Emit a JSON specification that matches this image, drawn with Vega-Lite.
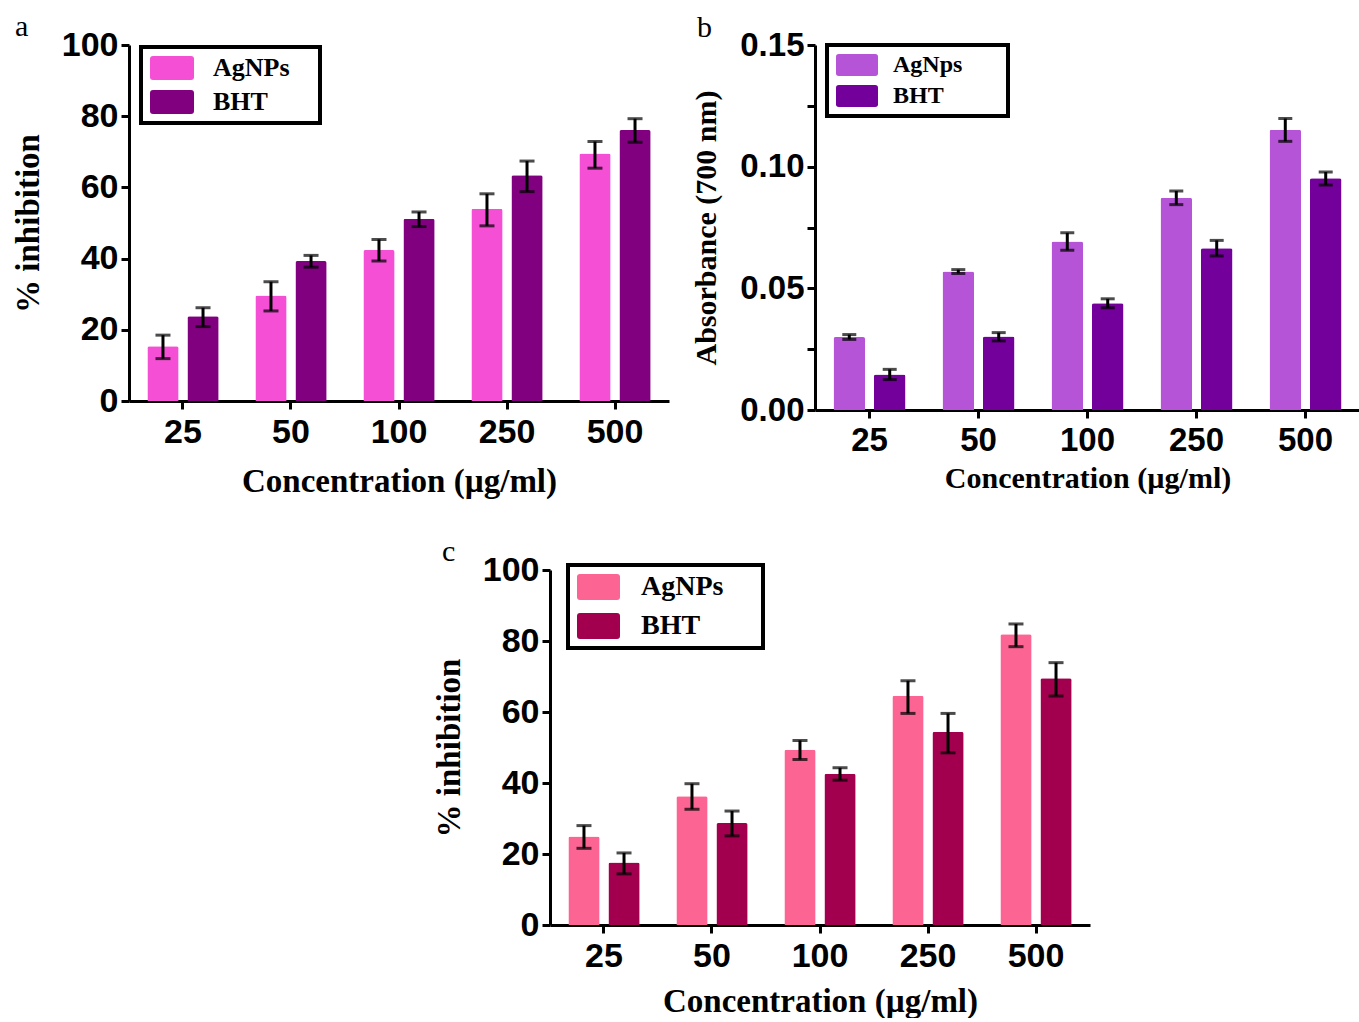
{
  "$schema": "https://vega.github.io/schema/vega-lite/v6.json",
  "background": "white",
  "padding": {"left": 12, "top": 12, "right": 0, "bottom": 0},
  "autosize": {"type": "pad"},
  "spacing": 39,
  "resolve": {"scale": {"color": "independent", "xOffset": "independent"}, "legend": {"color": "independent"}},
  "config": {
    "view": {"stroke": null},
    "axis": {
      "grid": false,
      "domainColor": "black", "domainWidth": 3,
      "tickColor": "black", "tickWidth": 3, "tickSize": 8,
      "labelFont": "Liberation Sans", "labelFontWeight": "bold", "labelFontSize": 34, "labelColor": "black",
      "titleFont": "Liberation Serif", "titleFontWeight": "bold", "titleFontSize": 33, "titleColor": "black"
    },
    "axisX": {"labelAngle": 0, "labelPadding": 6, "titlePadding": 16},
    "axisY": {"labelPadding": 3, "titlePadding": 16},
    "legend": {
      "orient": "none", "titleOrient": "right", "titleFontSize": 4,
      "strokeColor": "black", "strokeWidth": 4, "fillColor": "white",
      "labelFont": "Liberation Serif", "labelFontWeight": "bold", "labelColor": "black",
      "symbolStrokeWidth": 0, "symbolOpacity": 1, "padding": 8
    },
    "title": {"font": "Liberation Serif", "fontWeight": "normal", "fontSize": 30, "color": "black", "anchor": "start", "frame": "group"}
  },
  "datasets": {
    "a": [
      {"conc": "25", "group": "AgNPs", "mean": 15.4, "lo": 11.9, "hi": 18.5},
      {"conc": "50", "group": "AgNPs", "mean": 29.6, "lo": 25.3, "hi": 33.5},
      {"conc": "100", "group": "AgNPs", "mean": 42.4, "lo": 39.3, "hi": 45.4},
      {"conc": "250", "group": "AgNPs", "mean": 54.0, "lo": 49.2, "hi": 58.2},
      {"conc": "500", "group": "AgNPs", "mean": 69.5, "lo": 65.4, "hi": 72.9},
      {"conc": "25", "group": "BHT", "mean": 23.8, "lo": 20.9, "hi": 26.2},
      {"conc": "50", "group": "BHT", "mean": 39.3, "lo": 37.6, "hi": 40.9},
      {"conc": "100", "group": "BHT", "mean": 51.2, "lo": 49.0, "hi": 53.1},
      {"conc": "250", "group": "BHT", "mean": 63.4, "lo": 58.8, "hi": 67.4},
      {"conc": "500", "group": "BHT", "mean": 76.1, "lo": 72.7, "hi": 79.3}
    ],
    "b": [
      {"conc": "25", "group": "AgNps", "mean": 0.0300, "lo": 0.0290, "hi": 0.0310},
      {"conc": "50", "group": "AgNps", "mean": 0.0569, "lo": 0.0561, "hi": 0.0577},
      {"conc": "100", "group": "AgNps", "mean": 0.0692, "lo": 0.0656, "hi": 0.0728},
      {"conc": "250", "group": "AgNps", "mean": 0.0872, "lo": 0.0844, "hi": 0.0900},
      {"conc": "500", "group": "AgNps", "mean": 0.1152, "lo": 0.1104, "hi": 0.1198},
      {"conc": "25", "group": "BHT", "mean": 0.0146, "lo": 0.0125, "hi": 0.0167},
      {"conc": "50", "group": "BHT", "mean": 0.0302, "lo": 0.0284, "hi": 0.0318},
      {"conc": "100", "group": "BHT", "mean": 0.0439, "lo": 0.0420, "hi": 0.0457},
      {"conc": "250", "group": "BHT", "mean": 0.0665, "lo": 0.0633, "hi": 0.0697},
      {"conc": "500", "group": "BHT", "mean": 0.0952, "lo": 0.0925, "hi": 0.0978}
    ],
    "c": [
      {"conc": "25", "group": "AgNPs", "mean": 24.9, "lo": 21.6, "hi": 28.0},
      {"conc": "50", "group": "AgNPs", "mean": 36.3, "lo": 32.6, "hi": 39.8},
      {"conc": "100", "group": "AgNPs", "mean": 49.4, "lo": 46.6, "hi": 52.0},
      {"conc": "250", "group": "AgNPs", "mean": 64.6, "lo": 59.6, "hi": 68.8},
      {"conc": "500", "group": "AgNPs", "mean": 81.9, "lo": 78.4, "hi": 84.8},
      {"conc": "25", "group": "BHT", "mean": 17.6, "lo": 14.4, "hi": 20.3},
      {"conc": "50", "group": "BHT", "mean": 28.7, "lo": 25.1, "hi": 32.1},
      {"conc": "100", "group": "BHT", "mean": 42.6, "lo": 40.8, "hi": 44.3},
      {"conc": "250", "group": "BHT", "mean": 54.4, "lo": 48.5, "hi": 59.6},
      {"conc": "500", "group": "BHT", "mean": 69.5, "lo": 64.5, "hi": 73.9}
    ]
  },
  "vconcat": [
    {
      "spacing": 22,
      "resolve": {"scale": {"color": "independent", "xOffset": "independent"}, "legend": {"color": "independent"}},
      "hconcat": [
        {
          "title": {"text": "a", "dx": -114, "offset": -14},
          "width": 540, "height": 356,
          "data": {"name": "a"},
          "encoding": {
            "x": {"field": "conc", "type": "nominal", "sort": ["25", "50", "100", "250", "500"],
                  "scale": {"paddingInner": 0.34, "paddingOuter": 0.17},
                  "axis": {"title": "Concentration (µg/ml)"}},
            "xOffset": {"field": "group", "type": "nominal", "sort": ["AgNPs", "BHT"], "scale": {"paddingInner": 0.22}}
          },
          "layer": [
            {
              "mark": {"type": "bar", "cornerRadiusTopLeft": 2, "cornerRadiusTopRight": 2},
              "encoding": {
                "y": {"field": "mean", "type": "quantitative", "scale": {"domain": [0, 100], "nice": false},
                      "axis": {"title": "% inhibition", "values": [0, 20, 40, 60, 80, 100]}},
                "color": {"field": "group", "type": "nominal", "sort": ["AgNPs", "BHT"],
                          "scale": {"domain": ["AgNPs", "BHT"], "range": ["#F550D5", "#800080"]},
                          "legend": {"title": " ", "titlePadding": 22, "legendX": 12, "legendY": 2, "labelFontSize": 26, "rowPadding": 8, "labelOffset": 38, "symbolSize": 576,
                                     "symbolType": "M-0.75,-1H2.417Q2.667,-1 2.667,-0.75V0.75Q2.667,1 2.417,1H-0.75Q-1,1 -1,0.75V-0.75Q-1,-1 -0.75,-1Z"}}
              }
            },
            {
              "mark": {"type": "rule", "color": "black", "strokeWidth": 3},
              "encoding": {"y": {"field": "lo", "type": "quantitative"}, "y2": {"field": "hi"}}
            },
            {
              "mark": {"type": "tick", "orient": "horizontal", "color": "black", "size": 15, "thickness": 3},
              "encoding": {"y": {"field": "lo", "type": "quantitative"}}
            },
            {
              "mark": {"type": "tick", "orient": "horizontal", "color": "black", "size": 15, "thickness": 3},
              "encoding": {"y": {"field": "hi", "type": "quantitative"}}
            }
          ]
        },
        {
          "title": {"text": "b", "dx": -118, "offset": -14},
          "width": 545, "height": 365,
          "data": {"name": "b"},
          "encoding": {
            "x": {"field": "conc", "type": "nominal", "sort": ["25", "50", "100", "250", "500"],
                  "scale": {"paddingInner": 0.34, "paddingOuter": 0.17},
                  "axis": {"title": "Concentration (µg/ml)", "titleFontSize": 30, "labelFontSize": 33, "titlePadding": 6}},
            "xOffset": {"field": "group", "type": "nominal", "sort": ["AgNps", "BHT"], "scale": {"paddingInner": 0.22}}
          },
          "layer": [
            {
              "mark": {"type": "bar", "cornerRadiusTopLeft": 2, "cornerRadiusTopRight": 2},
              "encoding": {
                "y": {"field": "mean", "type": "quantitative", "scale": {"domain": [0, 0.15], "nice": false},
                      "axis": {"title": "Absorbance (700 nm)", "titleFontSize": 30, "labelFontSize": 33, "titlePadding": 18,
                               "values": [0, 0.025, 0.05, 0.075, 0.1, 0.125, 0.15],
                               "labelExpr": "round(datum.value * 1000) % 50 == 0 ? format(datum.value, '.2f') : ''"}},
                "color": {"field": "group", "type": "nominal", "sort": ["AgNps", "BHT"],
                          "scale": {"domain": ["AgNps", "BHT"], "range": ["#B654D8", "#74009B"]},
                          "legend": {"title": " ", "titlePadding": 38, "legendX": 12, "legendY": 0, "labelFontSize": 24, "rowPadding": 7, "labelOffset": 34, "symbolSize": 484,
                                     "symbolType": "M-0.75,-1H2.568Q2.818,-1 2.818,-0.75V0.75Q2.818,1 2.568,1H-0.75Q-1,1 -1,0.75V-0.75Q-1,-1 -0.75,-1Z"}}
              }
            },
            {
              "mark": {"type": "rule", "color": "black", "strokeWidth": 3},
              "encoding": {"y": {"field": "lo", "type": "quantitative"}, "y2": {"field": "hi"}}
            },
            {
              "mark": {"type": "tick", "orient": "horizontal", "color": "black", "size": 14, "thickness": 3},
              "encoding": {"y": {"field": "lo", "type": "quantitative"}}
            },
            {
              "mark": {"type": "tick", "orient": "horizontal", "color": "black", "size": 14, "thickness": 3},
              "encoding": {"y": {"field": "hi", "type": "quantitative"}}
            }
          ]
        }
      ]
    },
    {
      "spacing": 0,
      "resolve": {"scale": {"color": "independent", "xOffset": "independent"}, "legend": {"color": "independent"}},
      "hconcat": [
        {
          "width": 304, "height": 10,
          "data": {"values": [{}]},
          "mark": {"type": "point", "opacity": 0},
          "encoding": {}
        },
        {
          "title": {"text": "c", "dx": -108, "offset": -14},
          "width": 540, "height": 355,
          "data": {"name": "c"},
          "encoding": {
            "x": {"field": "conc", "type": "nominal", "sort": ["25", "50", "100", "250", "500"],
                  "scale": {"paddingInner": 0.34, "paddingOuter": 0.17},
                  "axis": {"title": "Concentration (µg/ml)", "titlePadding": 12}},
            "xOffset": {"field": "group", "type": "nominal", "sort": ["AgNPs", "BHT"], "scale": {"paddingInner": 0.22}}
          },
          "layer": [
            {
              "mark": {"type": "bar", "cornerRadiusTopLeft": 2, "cornerRadiusTopRight": 2},
              "encoding": {
                "y": {"field": "mean", "type": "quantitative", "scale": {"domain": [0, 100], "nice": false},
                      "axis": {"title": "% inhibition", "values": [0, 20, 40, 60, 80, 100]}},
                "color": {"field": "group", "type": "nominal", "sort": ["AgNPs", "BHT"],
                          "scale": {"domain": ["AgNPs", "BHT"], "range": ["#FC6494", "#A2004F"]},
                          "legend": {"title": " ", "titlePadding": 32, "legendX": 18, "legendY": -5, "labelFontSize": 28, "rowPadding": 11, "labelOffset": 37, "symbolSize": 676,
                                     "symbolType": "M-0.77,-1H2.078Q2.308,-1 2.308,-0.77V0.77Q2.308,1 2.078,1H-0.77Q-1,1 -1,0.77V-0.77Q-1,-1 -0.77,-1Z"}}
              }
            },
            {
              "mark": {"type": "rule", "color": "black", "strokeWidth": 3},
              "encoding": {"y": {"field": "lo", "type": "quantitative"}, "y2": {"field": "hi"}}
            },
            {
              "mark": {"type": "tick", "orient": "horizontal", "color": "black", "size": 15, "thickness": 3},
              "encoding": {"y": {"field": "lo", "type": "quantitative"}}
            },
            {
              "mark": {"type": "tick", "orient": "horizontal", "color": "black", "size": 15, "thickness": 3},
              "encoding": {"y": {"field": "hi", "type": "quantitative"}}
            }
          ]
        }
      ]
    }
  ]
}
